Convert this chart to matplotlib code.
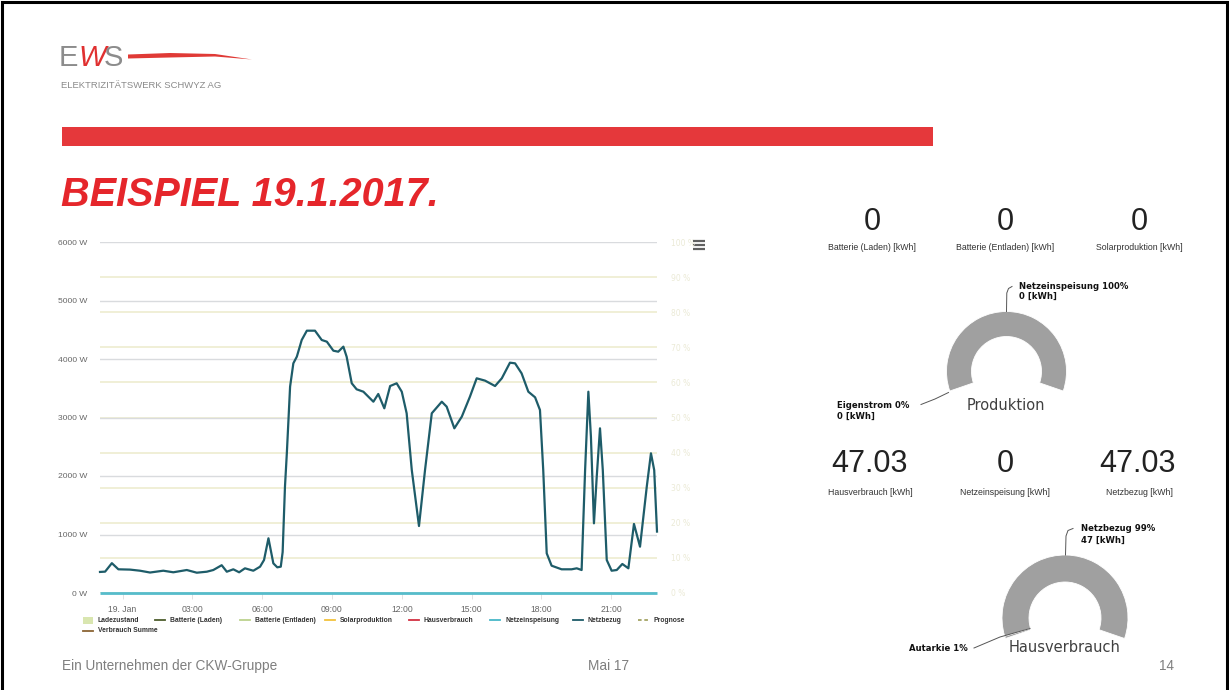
import matplotlib
matplotlib.use("Agg")
import matplotlib.pyplot as plt
from matplotlib.patches import Wedge, Polygon, Rectangle

# ---------------- data ----------------
hours = [-0.97, -0.75, -0.46, -0.18, 0.32, 0.75, 1.18, 1.75, 2.18, 2.76, 3.19, 3.62, 3.90,
         4.26, 4.48, 4.76, 5.01, 5.26, 5.62, 5.91, 6.08, 6.27, 6.48, 6.65, 6.80, 6.88, 6.98,
         7.06, 7.13, 7.20, 7.34, 7.49, 7.70, 7.92, 8.27, 8.56, 8.78, 9.06, 9.27, 9.49, 9.63,
         9.85, 10.06, 10.35, 10.78, 10.99, 11.25, 11.50, 11.78, 12.00, 12.21, 12.43, 12.74,
         13.00, 13.29, 13.72, 13.93, 14.26, 14.58, 14.93, 15.22, 15.58, 16.01, 16.30, 16.65,
         16.87, 17.15, 17.44, 17.73, 17.94, 18.08, 18.23, 18.44, 18.87, 19.30, 19.52, 19.73,
         19.88, 20.02, 20.13, 20.26, 20.38, 20.52, 20.64, 20.81, 21.02, 21.24, 21.48, 21.74,
         21.98, 22.24, 22.53, 22.71, 22.85, 22.97]
netzbezug_w = [360, 365, 510, 405, 400, 381, 350, 381, 354, 393, 347, 364, 393,
               475, 364, 405, 354, 422, 381, 450, 564, 935, 507, 439, 450, 700, 1817,
               2388, 2957, 3527, 3926, 4040, 4325, 4484, 4484, 4325, 4296, 4142, 4125, 4211, 4040,
               3585, 3482, 3441, 3270, 3402, 3157, 3538, 3585, 3441, 3072, 2103, 1145,
               2103, 3072, 3270, 3185, 2815, 3014, 3356, 3670, 3630, 3538, 3670, 3937,
               3926, 3755, 3441, 3345, 3128, 2103, 678, 467, 405, 405, 422, 393,
               2103, 3441, 2672, 1191, 1988, 2815, 2103, 564, 381, 393, 496, 422,
               1180, 792, 1817, 2388, 2100, 1050]
netzeinspeisung_hours = [-0.97, 22.97]
netzeinspeisung_w = [0, 0]

x_tick_hours = [0, 3, 6, 9, 12, 15, 18, 21]
x_tick_labels = ["19. Jan", "03:00", "06:00", "09:00", "12:00", "15:00", "18:00", "21:00"]
y_ticks_w = [0, 1000, 2000, 3000, 4000, 5000, 6000]
y2_ticks_pct = [0, 10, 20, 30, 40, 50, 60, 70, 80, 90, 100]

legend_labels = ["Ladezustand", "Batterie (Laden)", "Batterie (Entladen)", "Solarproduktion",
                 "Hausverbrauch", "Netzeinspeisung", "Netzbezug", "Prognose", "Verbrauch Summe"]

top_values = ["0", "0", "0"]
top_labels = ["Batterie (Laden) [kWh]", "Batterie (Entladen) [kWh]", "Solarproduktion [kWh]"]
mid_values = ["47.03", "0", "47.03"]
mid_labels = ["Hausverbrauch [kWh]", "Netzeinspeisung [kWh]", "Netzbezug [kWh]"]

produktion_names = ["Eigenstrom", "Netzeinspeisung"]
produktion_pct = [0, 100]
produktion_kwh = [0, 0]
haus_names = ["Autarkie", "Netzbezug"]
haus_pct = [1, 99]
haus_kwh = [None, 47]

# ---------------- figure ----------------
W, H = 1229, 690
fig = plt.figure(figsize=(W / 100, H / 100), dpi=100, facecolor="white")
S = fig.add_axes([0, 0, 1, 1])
S.set_xlim(0, W)
S.set_ylim(0, H)
S.axis("off")


def Y(py):
    return H - py


# slide border (left, top, right)
S.plot([1.5, 1.5, W - 2, W - 2], [0, Y(1.5), Y(1.5), 0], color="black", lw=2.2,
       solid_joinstyle="miter")

# logo
S.text(59, Y(66), "E", fontsize=21, family="Liberation Sans", color="#8c8c8c",
       va="baseline", ha="left")
S.text(78, Y(66), "W", fontsize=21, family="Liberation Sans", style="italic",
       color="#e03030", va="baseline", ha="left")
S.text(104, Y(66), "S", fontsize=21, family="Liberation Sans", color="#8c8c8c",
       va="baseline", ha="left")
S.add_patch(Polygon([(128, Y(54.5)), (170, Y(53)), (215, Y(54)), (252, Y(59.5)),
                     (215, Y(56.5)), (170, Y(57.5)), (128, Y(58.5))],
                    closed=True, facecolor="#e03a36", edgecolor="none"))
S.text(61, Y(86), "ELEKTRIZITÄTSWERK SCHWYZ AG", fontsize=6.8,
       family="Liberation Sans", color="#8a8a8a", va="center", ha="left")

# red bar + title
S.add_patch(Rectangle((62, Y(146)), 871, 19, facecolor="#e5383b", edgecolor="none"))
S.text(61, Y(206), "BEISPIEL 19.1.2017.", fontsize=28.5, family="Liberation Sans",
       weight="bold", style="italic", color="#e5262b", va="baseline", ha="left")

# footer
foot = dict(fontsize=9.8, family="Liberation Sans", color="#7f7f7f", va="center")
S.text(62, Y(666), "Ein Unternehmen der CKW-Gruppe", ha="left", **foot)
S.text(608, Y(666), "Mai 17", ha="center", **foot)
S.text(1166, Y(666), "14", ha="center", **foot)

# hamburger icon
for yy in (240.5, 244.5, 248.5):
    S.plot([693, 705], [Y(yy), Y(yy)], color="#606060", lw=1.6, solid_capstyle="butt")

# ---------------- line chart ----------------
ax_l, ax_r, ax_b, ax_t = 100, 657, 593, 242
ax2 = fig.add_axes([ax_l / W, 1 - ax_b / H, (ax_r - ax_l) / W, (ax_b - ax_t) / H])
ax = ax2.twinx()
ax.set_zorder(ax2.get_zorder() + 1)
ax.patch.set_visible(False)
ax2.patch.set_visible(False)

# secondary (percent) axis with faint yellow grid, drawn behind; also carries the x axis
ax2.set_xlim(-0.97, 22.97)
ax2.set_ylim(0, 100)
ax2.set_yticks(y2_ticks_pct)
ax2.yaxis.tick_right()
ax2.set_yticklabels([f"{v} %" for v in y2_ticks_pct])
ax2.tick_params(axis="y", length=0, pad=10, labelsize=5.5, labelcolor="#ebead6")
ax2.grid(axis="y", color="#eeeccf", lw=1.2)
ax2.set_xticks(x_tick_hours)
ax2.set_xticklabels(x_tick_labels)
ax2.tick_params(axis="x", length=4, width=0.6, color="#dcdcdc", pad=5, labelsize=6.2,
                labelcolor="#666666", direction="out")
for lab in ax2.get_xticklabels():
    lab.set_family("Liberation Sans")
for sp in ax2.spines.values():
    sp.set_visible(False)

# primary W axis
ax.set_xlim(-0.97, 22.97)
ax.set_ylim(0, 6000)
ax.yaxis.tick_left()
ax.set_yticks(y_ticks_w)
ax.set_yticklabels([f"{v} W" for v in y_ticks_w])
ax.tick_params(axis="y", length=0, pad=9, labelsize=6.1, labelcolor="#666666",
               labelleft=True, labelright=False)
for lab in ax.get_yticklabels():
    lab.set_family("Liberation Sans")
for sp in ax.spines.values():
    sp.set_visible(False)
for v in y_ticks_w[1:]:
    ax.axhline(v, color="#d9dbde", lw=1.0, zorder=1)

ax.plot(netzeinspeisung_hours, netzeinspeisung_w, color="#56bccb", lw=2.0, zorder=3,
        clip_on=False, solid_capstyle="butt")
ax.plot(hours, netzbezug_w, color="#1e5c69", lw=1.6, zorder=4, solid_joinstyle="round",
        clip_on=False)

# legend (manual, two rows)
leg_items = [
    ("#d9e6b0", "box", 83, 620),
    ("#4d5d2c", "line", 155, 620),
    ("#bcd28e", "line", 240, 620),
    ("#f2c23c", "line", 325, 620),
    ("#d23042", "line", 409, 620),
    ("#48b8c8", "line", 490, 620),
    ("#1e5c69", "line", 573, 620),
    ("#a4a464", "dash", 638, 620),
    ("#8b6434", "line", 83, 630.5),
]
for (col, kind, x0, y0), name in zip(leg_items, legend_labels):
    if kind == "box":
        S.add_patch(Rectangle((x0, Y(y0) - 3.5), 10, 7, facecolor=col, edgecolor="none"))
    elif kind == "dash":
        S.plot([x0, x0 + 10], [Y(y0), Y(y0)], color=col, lw=1.3, ls=(0, (2, 1.5)))
    else:
        S.plot([x0, x0 + 10], [Y(y0), Y(y0)], color=col, lw=1.3)
    S.text(x0 + 15, Y(y0), name, fontsize=4.9, family="Liberation Sans", weight="bold",
           color="#333333", va="center", ha="left")

# ---------------- right panel: KPIs ----------------
num_kw = dict(fontsize=22, family="Liberation Sans", color="#222222", ha="center",
              va="center")
lab_kw = dict(fontsize=6.3, family="Liberation Sans", color="#333333", ha="center",
              va="center")
for xc, val, lbl in zip([872, 1005, 1139], top_values, top_labels):
    S.text(xc, Y(222), val, **num_kw)
    S.text(xc, Y(248), lbl, **lab_kw)
for xc, val in zip([870, 1005, 1138], mid_values):
    S.text(xc, Y(464), val, **num_kw)
for xc, lbl in zip([870, 1005, 1139], mid_labels):
    S.text(xc, Y(492.5), lbl, **lab_kw)

# ---------------- gauges ----------------
GAUGE_COL = "#a0a0a0"
OVER = 19  # degrees below the horizontal at both ends
SPAN = 180 + 2 * OVER


def gauge(cx, cy, R, r, pcts):
    total = sum(pcts)
    start = 180 + OVER
    cum = 0
    for p in pcts:
        a1 = start - SPAN * (cum + p) / total
        a2 = start - SPAN * cum / total
        if p > 0:
            S.add_patch(Wedge((cx, Y(cy)), R, a1, a2, width=R - r, facecolor=GAUGE_COL,
                              edgecolor="white", lw=0.6))
        cum += p


gauge(1006.5, 371.5, 60, 35, produktion_pct)
gauge(1065, 618, 63, 36, haus_pct)

S.text(1006, Y(405), "Produktion", fontsize=10.5, family="DejaVu Sans", color="#404040",
       ha="center", va="center")
S.text(1065, Y(648), "Hausverbrauch", fontsize=10.5, family="DejaVu Sans",
       color="#404040", ha="center", va="center")

blab = dict(fontsize=6.1, family="DejaVu Sans", weight="bold", color="#111111",
            ha="left", va="center")
# Produktion labels
S.plot([1006.5, 1006.8, 1008.5, 1012], [Y(311.5), Y(293), Y(288.5), Y(286.5)],
       color="#555555", lw=0.7)
S.text(1019, Y(286.5), f"{produktion_names[1]} {produktion_pct[1]}%", **blab)
S.text(1019, Y(296.5), f"{produktion_kwh[1]} [kWh]", **blab)
S.plot([948.5, 935, 921], [Y(392.5), Y(399), Y(404.5)], color="#555555", lw=0.7)
S.text(837, Y(405.5), f"{produktion_names[0]} {produktion_pct[0]}%", **blab)
S.text(837, Y(416.5), f"{produktion_kwh[0]} [kWh]", **blab)
# Hausverbrauch labels
S.plot([1065.5, 1066, 1068, 1073], [Y(555), Y(536), Y(530.5), Y(528.5)],
       color="#555555", lw=0.7)
S.text(1081, Y(528.5), f"{haus_names[1]} {haus_pct[1]}%", **blab)
S.text(1081, Y(540), f"{haus_kwh[1]} [kWh]", **blab)
S.plot([1030, 1000, 974], [Y(628.5), Y(637), Y(648)], color="#555555", lw=0.7)
S.text(909, Y(648.5), f"{haus_names[0]} {haus_pct[0]}%", **blab)

fig.savefig("out.png", dpi=100, facecolor="white")
